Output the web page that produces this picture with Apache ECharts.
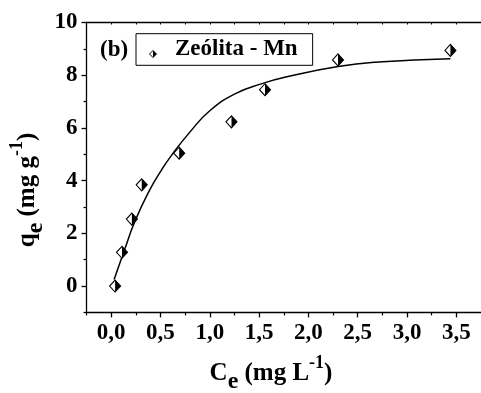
<!DOCTYPE html>
<html>
<head>
<meta charset="utf-8">
<script src="https://cdn.jsdelivr.net/npm/echarts@6/dist/echarts.min.js"></script>
<style>
  html, body { margin: 0; padding: 0; background: #fff; }
  #chart { width: 481px; height: 393px; }
</style>
</head>
<body>
<div id="chart"></div>
<script>
// Adsorption isotherm: equilibrium concentration Ce (mg/L) vs uptake qe (mg/g)
const ceData = [0.04, 0.11, 0.21, 0.31, 0.69, 1.22, 1.56, 2.30, 3.44];
const qeData = [0.00, 1.28, 2.54, 3.84, 5.04, 6.23, 7.45, 8.58, 8.94];

// Fitted model curve
const fitCe = [0.03, 0.14, 0.24, 0.39, 0.51, 0.61, 0.80, 1.00, 1.26, 1.53, 1.77, 2.30, 2.71, 3.44];
const fitQe = [0.25, 1.42, 2.45, 3.64, 4.40, 4.95, 5.85, 6.65, 7.30, 7.68, 7.93, 8.33, 8.50, 8.62];

// Tick positions
const xMajorTicks = [0, 0.5, 1.0, 1.5, 2.0, 2.5, 3.0, 3.5];
const xMinorTicks = [-0.25, 0.25, 0.75, 1.25, 1.75, 2.25, 2.75, 3.25];
const yMajorTicks = [0, 2, 4, 6, 8, 10];
const yMinorTicks = [-1, 1, 3, 5, 7, 9];

const seriesName = 'Zeólita - Mn';
const panelTag = '(b)';

const FONT = 'Liberation Serif';
const AXIS_COLOR = '#000';

const points = ceData.map((c, i) => [c, qeData[i]]);
const fitPoints = fitCe.map((c, i) => [c, fitQe[i]]);

const legendIconSvg =
  '<svg xmlns="http://www.w3.org/2000/svg" width="24" height="20" viewBox="0 0 24 20">' +
  '<path d="M3.5 14.5 L7 11 L10.5 14.5 L7 18 Z" fill="#fff" stroke="#000" stroke-width="1"/>' +
  '<path d="M7 11 L10.5 14.5 L7 18 Z" fill="#000"/></svg>';
const legendIcon = 'image://data:image/svg+xml;utf8,' + encodeURIComponent(legendIconSvg);

const labelFont = { fontFamily: FONT, fontWeight: 'bold', fontSize: 23, color: '#000' };
const fmtComma = v => v.toFixed(1).replace('.', ',');

// Rich-text styles for axis titles with subscripts / superscripts
const titleRich = {
  m: { fontFamily: FONT, fontWeight: 'bold', fontSize: 25, lineHeight: 26, verticalAlign: 'middle', fill: '#000' },
  s: { fontFamily: FONT, fontWeight: 'bold', fontSize: 24, lineHeight: 40, verticalAlign: 'bottom', fill: '#000' },
  p: { fontFamily: FONT, fontWeight: 'bold', fontSize: 18, lineHeight: 18, verticalAlign: 'top', fill: '#000' }
};

function hiddenAxisBase(extra) {
  return Object.assign({
    type: 'value',
    axisLine: { show: false, onZero: false },
    axisLabel: { show: false },
    splitLine: { show: false }
  }, extra);
}

const chart = echarts.init(document.getElementById('chart'), null, { renderer: 'canvas' });

chart.setOption({
  backgroundColor: '#fff',
  animation: false,
  grid: { left: 86.5, right: -3.6, top: 22.5, bottom: 80.6, containLabel: false },
  xAxis: [
    {
      type: 'value', position: 'bottom', min: -0.25, max: 3.75,
      axisLine: { onZero: false, lineStyle: { color: AXIS_COLOR, width: 1.3 } },
      axisTick: { customValues: xMajorTicks, length: 5, lineStyle: { color: AXIS_COLOR, width: 1.3 } },
      axisLabel: Object.assign({ customValues: xMajorTicks, formatter: fmtComma, margin: 9 }, labelFont),
      splitLine: { show: false }
    },
    hiddenAxisBase({
      position: 'bottom', min: -0.25, max: 3.75,
      axisTick: { customValues: xMinorTicks, length: 3, lineStyle: { color: AXIS_COLOR, width: 1.2 } }
    }),
    {
      type: 'value', position: 'top', min: -0.25, max: 3.75,
      axisLine: { onZero: false, lineStyle: { color: AXIS_COLOR, width: 1.3 } },
      axisTick: { inside: true, customValues: xMajorTicks.concat(xMinorTicks), length: 2, lineStyle: { color: AXIS_COLOR, width: 1 } },
      axisLabel: { show: false },
      splitLine: { show: false }
    }
  ],
  yAxis: [
    {
      type: 'value', position: 'left', min: -1, max: 10,
      axisLine: { onZero: false, lineStyle: { color: AXIS_COLOR, width: 1.3 } },
      axisTick: { customValues: yMajorTicks, length: 5, lineStyle: { color: AXIS_COLOR, width: 1.3 } },
      axisLabel: Object.assign({ customValues: yMajorTicks, margin: 9 }, labelFont),
      splitLine: { show: false }
    },
    hiddenAxisBase({
      position: 'left', min: -1, max: 10,
      axisTick: { customValues: yMinorTicks, length: 3, lineStyle: { color: AXIS_COLOR, width: 1.2 } }
    })
  ],
  legend: {
    data: [{ name: seriesName, icon: legendIcon }],
    left: 136, top: 33.7,
    orient: 'horizontal',
    itemWidth: 24, itemHeight: 20,
    padding: [4.3, 15, 4.3, 10],
    borderColor: '#000', borderWidth: 1, borderRadius: 0,
    backgroundColor: '#fff',
    selectedMode: false,
    textStyle: { fontFamily: FONT, fontWeight: 'bold', fontSize: 23, color: '#000', lineHeight: 20 }
  },
  graphic: [
    {
      type: 'text', left: 100, top: 39,
      style: { text: panelTag, font: 'bold 23px "Liberation Serif"', fill: '#000' }
    },
    {
      type: 'text', x: 271, y: 374,
      style: {
        text: '{m|C}{s|e}{m| (mg L}{p|-1}{m|)}',
        align: 'center', verticalAlign: 'middle',
        rich: titleRich
      }
    },
    {
      type: 'text', x: 28, y: 190, rotation: Math.PI / 2,
      style: {
        text: '{m|q}{s|e}{m| (mg g}{p|-1}{m|)}',
        align: 'center', verticalAlign: 'middle',
        rich: titleRich
      }
    }
  ],
  series: [
    {
      name: 'fit',
      type: 'line',
      data: fitPoints,
      xAxisIndex: 0, yAxisIndex: 0,
      showSymbol: false,
      smooth: 0.5,
      lineStyle: { color: '#000', width: 1.5 },
      z: 2,
      silent: true
    },
    {
      name: seriesName,
      type: 'scatter',
      data: points,
      xAxisIndex: 0, yAxisIndex: 0,
      symbol: 'diamond',
      symbolSize: [11, 12],
      itemStyle: { color: '#fff', borderColor: '#000', borderWidth: 1.1, opacity: 1 },
      z: 3
    },
    {
      name: 'fill',
      type: 'scatter',
      data: points,
      xAxisIndex: 0, yAxisIndex: 0,
      symbol: 'path://M0,0 L1,1 L0,2 Z',
      symbolSize: [5.5, 12],
      symbolOffset: [2.75, 0],
      itemStyle: { color: '#000', opacity: 1 },
      z: 4
    }
  ]
});
</script>
</body>
</html>
